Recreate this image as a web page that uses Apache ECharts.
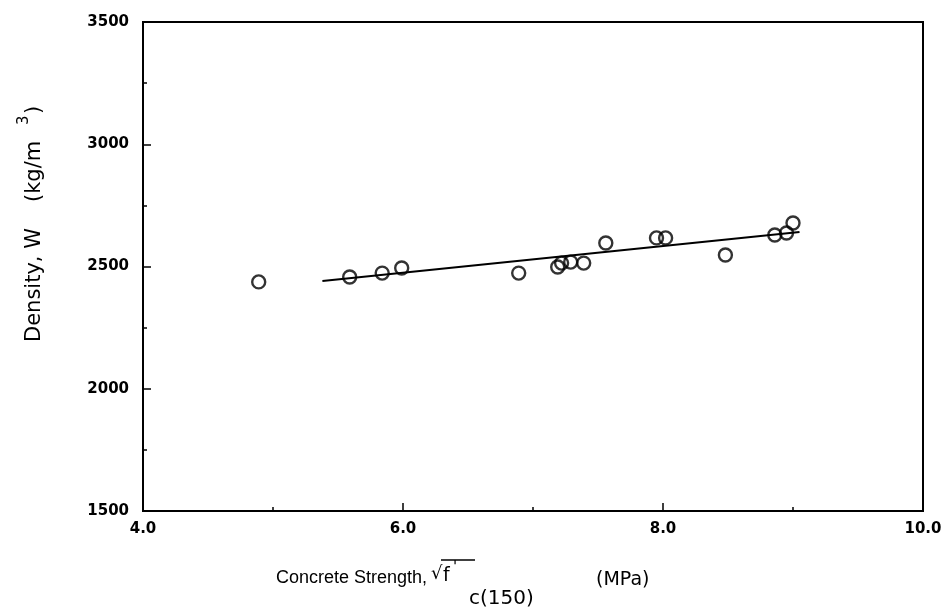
<!DOCTYPE html>
<html>
<head>
<meta charset="utf-8">
<script src="https://cdn.jsdelivr.net/npm/echarts@6/dist/echarts.min.js"></script>
<style>html,body{margin:0;padding:0;background:#fff}#c{width:948px;height:614px}</style>
</head>
<body>
<div id="c"></div>
<script>
// Data
const strength = [4.89, 5.59, 5.84, 5.99, 6.89, 7.19, 7.22, 7.29, 7.39, 7.56, 7.95, 8.02, 8.48, 8.86, 8.95, 9.00];
const density  = [2437, 2457, 2473, 2494, 2473, 2498, 2514, 2518, 2514, 2596, 2617, 2617, 2547, 2629, 2637, 2678];
const fitX = [5.38, 9.05];
const fitY = [2441, 2641];
const xTicks = [4.0, 6.0, 8.0, 10.0];
const yTicks = [1500, 2000, 2500, 3000, 3500];

const points = strength.map((x, i) => [x, density[i]]);
const fitLine = fitX.map((x, i) => [x, fitY[i]]);

const chart = echarts.init(document.getElementById('c'));
const font = 'DejaVu Sans';
const T = (t, x, y, size, rot, fam) => ({
  type: 'text', x: x, y: y, rotation: rot || 0,
  style: { text: t, fill: '#000', font: size + 'px "' + (fam || 'DejaVu Sans') + '"', textAlign: 'left', textVerticalAlign: 'middle' }
});
const R = Math.PI / 2;
chart.setOption({
  animation: false,
  backgroundColor: '#fff',
  grid: { left: 143, top: 22, right: 25, bottom: 103, show: true, borderColor: '#000', borderWidth: 2, backgroundColor: 'transparent' },
  xAxis: {
    type: 'value', min: xTicks[0], max: xTicks[xTicks.length - 1], interval: 2,
    axisLine: { show: true, lineStyle: { color: '#000', width: 2 } },
    axisTick: { show: true, inside: true, length: 8, lineStyle: { color: '#000', width: 1.5 } },
    minorTick: { show: true, splitNumber: 2, length: 4, lineStyle: { color: '#000', width: 1.5 } },
    splitLine: { show: false },
    axisLabel: { color: '#000', fontFamily: font, fontWeight: 'bold', fontSize: 15, margin: 11,
      formatter: v => v.toFixed(1) }
  },
  yAxis: {
    type: 'value', min: yTicks[0], max: yTicks[yTicks.length - 1], interval: 500,
    axisLine: { show: true, lineStyle: { color: '#000', width: 2 } },
    axisTick: { show: true, inside: true, length: 8, lineStyle: { color: '#000', width: 1.5 } },
    minorTick: { show: true, splitNumber: 2, length: 4, lineStyle: { color: '#000', width: 1.5 } },
    splitLine: { show: false },
    axisLabel: { color: '#000', fontFamily: font, fontWeight: 'bold', fontSize: 15, margin: 14,
      formatter: v => String(v) }
  },
  series: [
    {
      type: 'line', data: fitLine, symbol: 'none',
      lineStyle: { color: '#000', width: 2 }, z: 2
    },
    {
      type: 'scatter', data: points, symbol: 'circle', symbolSize: 13,
      itemStyle: { color: 'rgba(0,0,0,0)', borderColor: '#000', borderWidth: 2.4 }, z: 3
    }
  ],
  graphic: [
    T('Concrete Strength,', 276, 578, 18, 0, 'Liberation Sans'),
    T('\u221A', 431, 574, 18),
    T('f', 443, 576, 19),
    T("'", 453, 568, 15),
    { type: 'line', shape: { x1: 441, y1: 560, x2: 475, y2: 560 }, style: { stroke: '#000', lineWidth: 1.5 } },
    T('c(150)', 469, 599, 20),
    T('(MPa)', 596, 580, 19),
    T('Density, W', 35, 342, 21, R),
    T('(kg/m', 35, 202, 21, R),
    T('3', 24, 125, 15, R),
    T(')', 35, 114, 21, R)
  ]
});
</script>
</body>
</html>
